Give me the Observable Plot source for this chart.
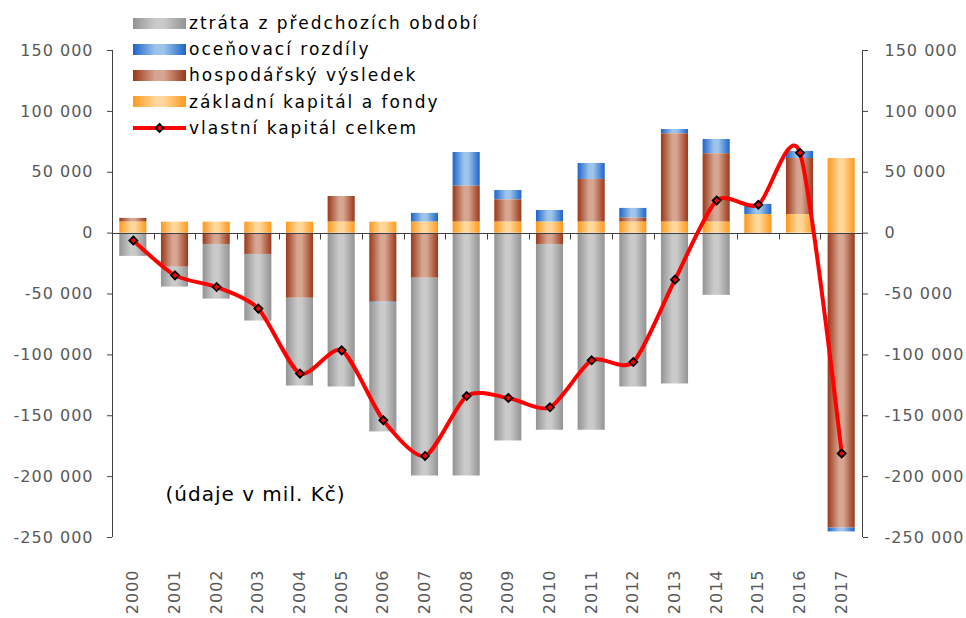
<!DOCTYPE html>
<html>
<head>
<meta charset="utf-8">
<script src="https://cdn.jsdelivr.net/npm/d3@7"></script>
<script src="https://cdn.jsdelivr.net/npm/@observablehq/plot@0.6"></script>
<style>
  html, body { margin: 0; padding: 0; background: #fff; }
  #wrap { position: relative; width: 966px; height: 618px; font-family: "DejaVu Sans", sans-serif; }
  #legend { position: absolute; left: 133px; top: 10px; }
  .item { display: flex; align-items: center; height: 26.2px; font-size: 17px; letter-spacing: 2px; color: #000; white-space: nowrap; }
  .sw { width: 53px; height: 11px; margin-right: 3px; flex: none; }
  .sw svg { display: block; }
</style>
</head>
<body>
<div id="wrap">
  <div id="chart"></div>
  <div id="legend"></div>
</div>
<script>
// ---- data (mil. Kč) ----
const years = ["2000","2001","2002","2003","2004","2005","2006","2007","2008","2009","2010","2011","2012","2013","2014","2015","2016","2017"];
const ztrata      = [-19100,-16400,-44900,-54700,-72200,-126400,-105900,-162600,-199500,-170700,-152600,-161900,-126400,-123900,-51100,0,0,0];
const ocenovaci   = [0,0,0,0,0,0,-800,7200,27600,7700,9600,13100,8000,3500,11700,8300,5800,-3300];
const hospodarsky = [3100,-27900,-9300,-17500,-53400,21100,-56600,-36900,29600,18300,-9300,35100,3300,72600,56200,-1000,46000,-242100];
const zakladni    = [9000,9000,9000,9000,9000,9000,9000,9000,9000,9000,9000,9000,9000,9000,9000,15300,15300,61300];
const celkem      = [-6000,-34700,-44300,-62000,-115400,-96300,-153700,-183000,-133800,-135400,-143100,-104500,-105900,-38200,26800,23300,66000,-181000];
const yTicks = [-250000,-200000,-150000,-100000,-50000,0,50000,100000,150000];

const seriesNames = ["ztráta z předchozích období","oceňovací rozdíly","hospodářský výsledek","základní kapitál a fondy"];
const lineName = "vlastní kapitál celkem";
const note = "(údaje v mil. Kč)";
const seriesValues = [ztrata, ocenovaci, hospodarsky, zakladni];
const stackOrder = [seriesNames[3], seriesNames[2], seriesNames[1], seriesNames[0]];

// gradients: [edge, centre]
const gradColors = [["#939393","#cacaca"],["#1c64c9","#9dc4ea"],["#9a3818","#d6a692"],["#ff981a","#ffd79a"]];
const gradIds = ["gGray","gBlue","gBrown","gOrange"];

const rows = [];
seriesNames.forEach((s, k) => years.forEach((y, i) => {
  if (seriesValues[k][i] !== 0) rows.push({year: y, series: s, value: seriesValues[k][i]});
}));
const lineRows = years.map((y, i) => ({year: y, value: celkem[i]}));

const fmt = d => (d < 0 ? "-" : "") + d3.format(",")(Math.abs(d)).replace(/,/g, " ");

// custom mark: axis lines, zero line and category-boundary ticks
const frameLines = (index, scales, values, dims) => {
  const {width, height, marginLeft, marginRight, marginTop, marginBottom} = dims;
  const g = d3.create("svg:g").attr("stroke", "#404040").attr("stroke-width", 1).attr("fill", "none");
  const xl = Math.round(marginLeft) + 0.5, xr = Math.round(width - marginRight) + 0.5;
  const yt = marginTop, yb = height - marginBottom;
  const y0 = Math.round(scales.y(0)) + 0.5;
  g.append("line").attr("x1", xl).attr("x2", xl).attr("y1", yt).attr("y2", yb);
  g.append("line").attr("x1", xr).attr("x2", xr).attr("y1", yt).attr("y2", yb);
  g.append("line").attr("x1", xl).attr("x2", xr).attr("y1", y0).attr("y2", y0);
  const step = (width - marginLeft - marginRight) / years.length;
  for (let k = 1; k < years.length; k++) {
    const x = Math.round(marginLeft + k * step) + 0.5;
    g.append("line").attr("x1", x).attr("x2", x).attr("y1", y0).attr("y2", y0 + 6);
  }
  return g.node();
};

const plot = Plot.plot({
  width: 966,
  height: 618,
  marginLeft: 112,
  marginRight: 104,
  marginTop: 50,
  marginBottom: 81,
  style: {fontFamily: "'DejaVu Sans', sans-serif", fontSize: "16px", letterSpacing: "1px", background: "#fff", overflow: "visible"},
  x: {domain: years, paddingInner: 0.35, paddingOuter: 0.175, round: false, label: null},
  y: {domain: [-250000, 150000], label: null},
  color: {domain: seriesNames, range: gradIds.map(id => `url(#${id})`)},
  marks: [
    Plot.barY(rows, Plot.stackY({order: stackOrder, x: "year", y: "value", fill: "series"})),
    Plot.axisY({anchor: "left", ticks: yTicks, tickFormat: fmt, tickSize: 5, tickPadding: 14, stroke: "#404040", fill: "#595959", label: null}),
    Plot.axisY({anchor: "right", ticks: yTicks, tickFormat: fmt, tickSize: 5, tickPadding: 17, stroke: "#404040", fill: "#595959", label: null}),
    Plot.axisX({anchor: "bottom", tickSize: 0, tickPadding: 32, tickRotate: -90, fill: "#595959", label: null}),
    frameLines,
    Plot.line(lineRows, {x: "year", y: "value", stroke: "#ff0000", strokeWidth: 4, curve: "cardinal", tension: 0.25}),
    Plot.dot(lineRows, {x: "year", y: "value", symbol: "diamond2", r: 3.6, fill: "#ff0000", stroke: "#000", strokeWidth: 1.8}),
    Plot.text([note], {frameAnchor: "bottom-left", text: d => d, dx: 53, dy: -43, lineAnchor: "middle", textAnchor: "start", fill: "#000", fontSize: 20, letterSpacing: 1.8})
  ]
});

// gradient definitions
const defs = d3.select(plot).insert("defs", ":first-child");
gradIds.forEach((id, k) => {
  const lg = defs.append("linearGradient").attr("id", id).attr("x1", 0).attr("x2", 1).attr("y1", 0).attr("y2", 0);
  [[0, 0], [0.42, 1], [0.58, 1], [1, 0]].forEach(([o, c]) =>
    lg.append("stop").attr("offset", o).attr("stop-color", gradColors[k][c]));
});
document.getElementById("chart").appendChild(plot);

// legend
const legend = d3.select("#legend");
seriesNames.forEach((s, k) => {
  const it = legend.append("div").attr("class", "item");
  it.append("div").attr("class", "sw")
    .style("background", `linear-gradient(to right, ${gradColors[k][0]} 0%, ${gradColors[k][1]} 42%, ${gradColors[k][1]} 58%, ${gradColors[k][0]} 100%)`);
  it.append("span").text(s);
});
const li = legend.append("div").attr("class", "item");
const lsvg = li.append("div").attr("class", "sw").style("height", "12px")
  .append("svg").attr("width", 53).attr("height", 12);
lsvg.append("line").attr("x1", 0).attr("x2", 53).attr("y1", 6).attr("y2", 6).attr("stroke", "#ff0000").attr("stroke-width", 4);
lsvg.append("path").attr("d", d3.symbol(d3.symbolDiamond2, Math.PI * 3.6 * 3.6)()).attr("transform", "translate(26.5,6)")
  .attr("fill", "#ff0000").attr("stroke", "#000").attr("stroke-width", 1.8);
li.append("span").text(lineName);
</script>
</body>
</html>
